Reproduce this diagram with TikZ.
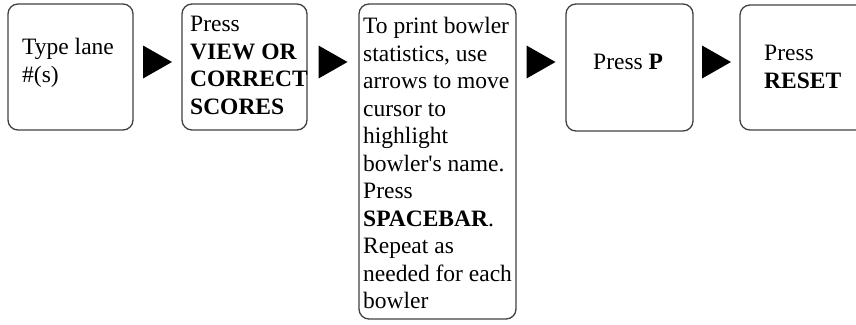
\documentclass[tikz,border=0pt]{standalone}
\usepackage{fontspec}
\setmainfont{Liberation Serif}
\usetikzlibrary{calc, positioning}

\newcommand\stepfont{\fontsize{23.5}{27.5}\selectfont}

\begin{document}
\begin{tikzpicture}[x=1pt, y=-1pt,
    stepbox/.style={draw=black!75, line width=1.3pt, rounded corners=10pt, inner sep=0pt},
    steptext/.style={font=\stepfont, align=left, inner sep=0pt, anchor=north west},
    pointer/.style={fill=black}]

\useasboundingbox (0,0) rectangle (856,324);
\clip (0,0) rectangle (856,324);

% Step boxes
\node[stepbox, minimum width=125pt, minimum height=126pt] (b1) at (70.5, 67) {};
\node[stepbox, minimum width=125pt, minimum height=126pt] (b2) at (244.5, 67) {};
\node[stepbox, minimum width=157pt, minimum height=315pt] (b3) at (437.5, 161.5) {};
\node[stepbox, minimum width=127pt, minimum height=127pt] (b4) at (629.5, 67.5) {};
\node[stepbox, minimum width=126pt, minimum height=125pt] (b5) at (803, 67.5) {};

% Step texts
\node[steptext] (t1) at (22, 38) {Type lane\\\#(s)};
\node[steptext] (t2) at (190, 16) {Press\\\textbf{VIEW OR}\\\textbf{CORRECT}\\\textbf{SCORES}};
\node[steptext] (t3) at (363, 17) {To print bowler\\statistics, use\\arrows to move\\cursor to\\highlight\\bowler\textquotesingle s name.\\Press\\\textbf{SPACEBAR}.\\Repeat as\\needed for each\\bowler};
\node[steptext] (t4) at (593, 54) {Press \textbf{P}};
\node[steptext] (t5) at (764, 45) {Press\\\textbf{RESET}};

% Pointers between steps
\coordinate (rail) at (0, 62);
\foreach \a/\b [count=\i] in {b1/b2, b2/b3, b3/b4, b4/b5} {
    \coordinate (m\i) at ($(\a.east)!0.5!(\b.west)$);
    \coordinate (p\i) at (m\i |- rail);
    \fill[pointer] ([xshift=-14.5pt, yshift=16.5pt]p\i) -- ([xshift=14.5pt]p\i)
        -- ([xshift=-14.5pt, yshift=-16.5pt]p\i) -- cycle;
}

\end{tikzpicture}
\end{document}
